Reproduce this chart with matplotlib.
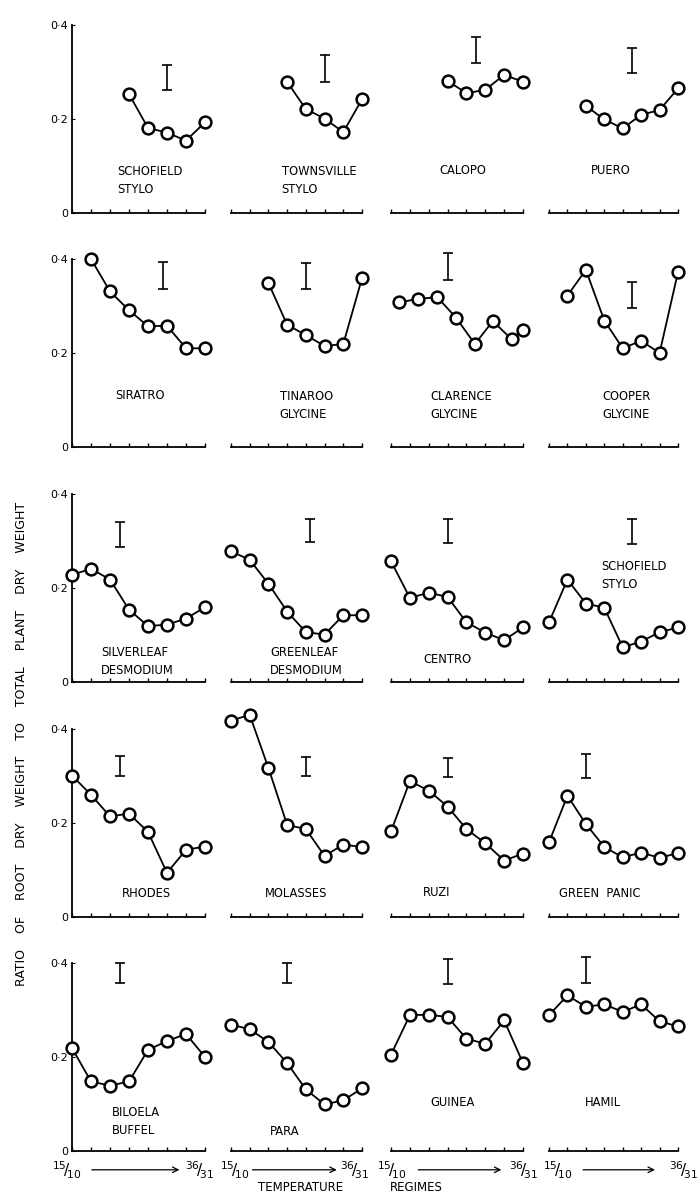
import numpy as np
import matplotlib
matplotlib.use("Agg")
from matplotlib import pyplot as plt

plt.rcParams['font.family'] = ['DejaVu Sans']

# data: ratio of root dry weight to total plant dry weight, 8 temperature regimes (15/10 ... 36/31)
names = ['SCHOFIELD\nSTYLO', 'TOWNSVILLE\nSTYLO', 'CALOPO', 'PUERO',
         'SIRATRO', 'TINAROO\nGLYCINE', 'CLARENCE\nGLYCINE', 'COOPER\nGLYCINE',
         'SILVERLEAF\nDESMODIUM', 'GREENLEAF\nDESMODIUM', 'CENTRO', 'SCHOFIELD\nSTYLO',
         'RHODES', 'MOLASSES', 'RUZI', 'GREEN  PANIC',
         'BILOELA\nBUFFEL', 'PARA', 'GUINEA', 'HAMIL']

regimes = [
    [3, 4, 5, 6, 7], [3, 4, 5, 6, 7], [3, 4, 5, 6, 7], [2, 3, 4, 5, 6, 7],
    [1, 2, 3, 4, 5, 6, 7], [2, 3, 4, 5, 6, 7],
    [0.45, 1.45, 2.45, 3.45, 4.45, 5.4, 6.4, 7.0], [1, 2, 3, 4, 5, 6, 7],
] + [list(range(8))] * 12

ratios = [
    [0.253, 0.181, 0.171, 0.154, 0.193],
    [0.279, 0.221, 0.201, 0.172, 0.242],
    [0.281, 0.255, 0.262, 0.294, 0.279],
    [0.228, 0.199, 0.180, 0.209, 0.219, 0.265],
    [0.400, 0.331, 0.291, 0.257, 0.258, 0.210, 0.210],
    [0.349, 0.260, 0.238, 0.215, 0.219, 0.359],
    [0.308, 0.315, 0.319, 0.275, 0.219, 0.268, 0.229, 0.250],
    [0.322, 0.377, 0.269, 0.210, 0.226, 0.200, 0.372],
    [0.228, 0.241, 0.218, 0.154, 0.119, 0.122, 0.135, 0.159],
    [0.278, 0.260, 0.209, 0.150, 0.106, 0.101, 0.142, 0.142],
    [0.257, 0.179, 0.190, 0.181, 0.127, 0.105, 0.089, 0.116],
    [0.127, 0.218, 0.167, 0.158, 0.074, 0.086, 0.106, 0.116],
    [0.301, 0.260, 0.214, 0.220, 0.181, 0.094, 0.143, 0.150],
    [0.418, 0.430, 0.317, 0.196, 0.187, 0.130, 0.154, 0.149],
    [0.182, 0.289, 0.269, 0.235, 0.187, 0.157, 0.120, 0.135],
    [0.159, 0.258, 0.198, 0.149, 0.127, 0.137, 0.126, 0.136],
    [0.219, 0.148, 0.139, 0.148, 0.215, 0.234, 0.249, 0.200],
    [0.269, 0.259, 0.232, 0.187, 0.131, 0.099, 0.108, 0.133],
    [0.205, 0.289, 0.290, 0.285, 0.239, 0.228, 0.278, 0.187],
    [0.289, 0.331, 0.307, 0.312, 0.296, 0.312, 0.276, 0.265],
]

# LSD bars: x position, low and high end
lsd_x = [5, 5, 4.5, 4.5, 4.8, 4, 3, 4.5, 2.5, 4.2, 3, 4.5, 2.5, 4, 3, 2, 2.5, 3, 3, 2]
lsd_lo = [0.262, 0.279, 0.320, 0.297, 0.336, 0.336, 0.356, 0.295, 0.288, 0.297,
          0.295, 0.294, 0.299, 0.299, 0.298, 0.296, 0.357, 0.357, 0.355, 0.357]
lsd_hi = [0.315, 0.336, 0.375, 0.352, 0.393, 0.391, 0.412, 0.352, 0.340, 0.347,
          0.347, 0.347, 0.342, 0.340, 0.338, 0.347, 0.400, 0.400, 0.409, 0.412]

# layout of the name labels (x, y, ha)
label_pos = [(2.4, 0.069, 'left'), (2.7, 0.069, 'left'), (3.83, 0.09, 'center'), (3.33, 0.09, 'center'),
             (3.57, 0.109, 'center'), (2.6, 0.089, 'left'), (2.1, 0.089, 'left'), (4.2, 0.089, 'center'),
             (1.53, 0.043, 'left'), (2.1, 0.043, 'left'), (2.98, 0.048, 'center'), (2.82, 0.226, 'left'),
             (3.9, 0.049, 'center'), (3.47, 0.049, 'center'), (2.4, 0.052, 'center'), (2.78, 0.05, 'center'),
             (2.1, 0.062, 'left'), (2.86, 0.042, 'center'), (3.26, 0.104, 'center'), (2.93, 0.104, 'center')]

W, H = 700, 1195
fig = plt.figure(figsize=(W / 100, H / 100), dpi=100)

col_left = [72, 231, 391, 549]
col_width = [133, 131, 132, 129]
row_zero = [213, 447, 682, 917, 1151]
panel_h = 188

axes = []
for i in range(20):
    r, c = divmod(i, 4)
    ax = fig.add_axes([col_left[c] / W, 1 - row_zero[r] / H, col_width[c] / W, panel_h / H])
    ax.set_xlim(0, 7)
    ax.set_ylim(0, 0.4)
    ax.patch.set_visible(False)
    ax.plot(regimes[i], ratios[i], '-o', color='black', lw=1.3, ms=8.5,
            mfc='white', mec='black', mew=1.8, clip_on=False, zorder=3)
    mid = (lsd_lo[i] + lsd_hi[i]) / 2
    eb = ax.errorbar([lsd_x[i]], [mid], yerr=[(lsd_hi[i] - lsd_lo[i]) / 2], fmt='none',
                     ecolor='black', elinewidth=1.2, capsize=3.5, capthick=1.2)
    for part in eb.get_children():
        part.set_clip_on(False)
    lx, ly, ha = label_pos[i]
    ax.text(lx, ly, names[i], ha=ha, va='center', fontsize=8.3, linespacing=1.5)
    for s in ['top', 'right']:
        ax.spines[s].set_visible(False)
    ax.spines['bottom'].set_linewidth(1.3)
    ax.set_xticks(range(8))
    ax.set_xticklabels([])
    ax.tick_params(axis='x', direction='in', length=3, width=1)
    if c == 0:
        ax.spines['left'].set_linewidth(1.3)
        ax.set_yticks([0, 0.2, 0.4])
        ax.set_yticklabels(['0', '0·2', '0·4'], fontsize=8)
        ax.tick_params(axis='y', direction='in', length=2, pad=3)
    else:
        ax.spines['left'].set_visible(False)
        ax.set_yticks([])
    axes.append(ax)

# temperature regime axis annotations under the bottom row
frac_lo = r'$^{15}\!/\!_{10}$'
frac_hi = r'$^{36}\!/\!_{31}$'
bottom = axes[16:]
ends = [(-0.3, 6.7, 0.9, 5.8), (0.2, 6.6, 1.0, 5.8), (0.05, 7.05, 1.3, 6.0), (0.5, 7.3, 1.7, 5.9)]
for ax, (a, b, s0, s1) in zip(bottom, ends):
    ax.text(a, -0.041, frac_lo, ha='center', va='center', fontsize=11, clip_on=False)
    ax.text(b, -0.041, frac_hi, ha='center', va='center', fontsize=11, clip_on=False)
    ax.annotate('', xy=(s1, -0.04), xytext=(s0, -0.04), annotation_clip=False,
                arrowprops=dict(arrowstyle='->', color='black', lw=0.9))
bottom[1].text(3.7, -0.077, 'TEMPERATURE', ha='center', va='center', fontsize=8.5, clip_on=False)
bottom[2].text(-0.05, -0.077, 'REGIMES', ha='left', va='center', fontsize=8.5, clip_on=False)

fig.text(22 / W, 1 - 744 / H,
         'RATIO    OF    ROOT    DRY    WEIGHT    TO    TOTAL    PLANT    DRY    WEIGHT',
         rotation=90, ha='center', va='center', fontsize=9)

fig.savefig('out.png', dpi=100)
